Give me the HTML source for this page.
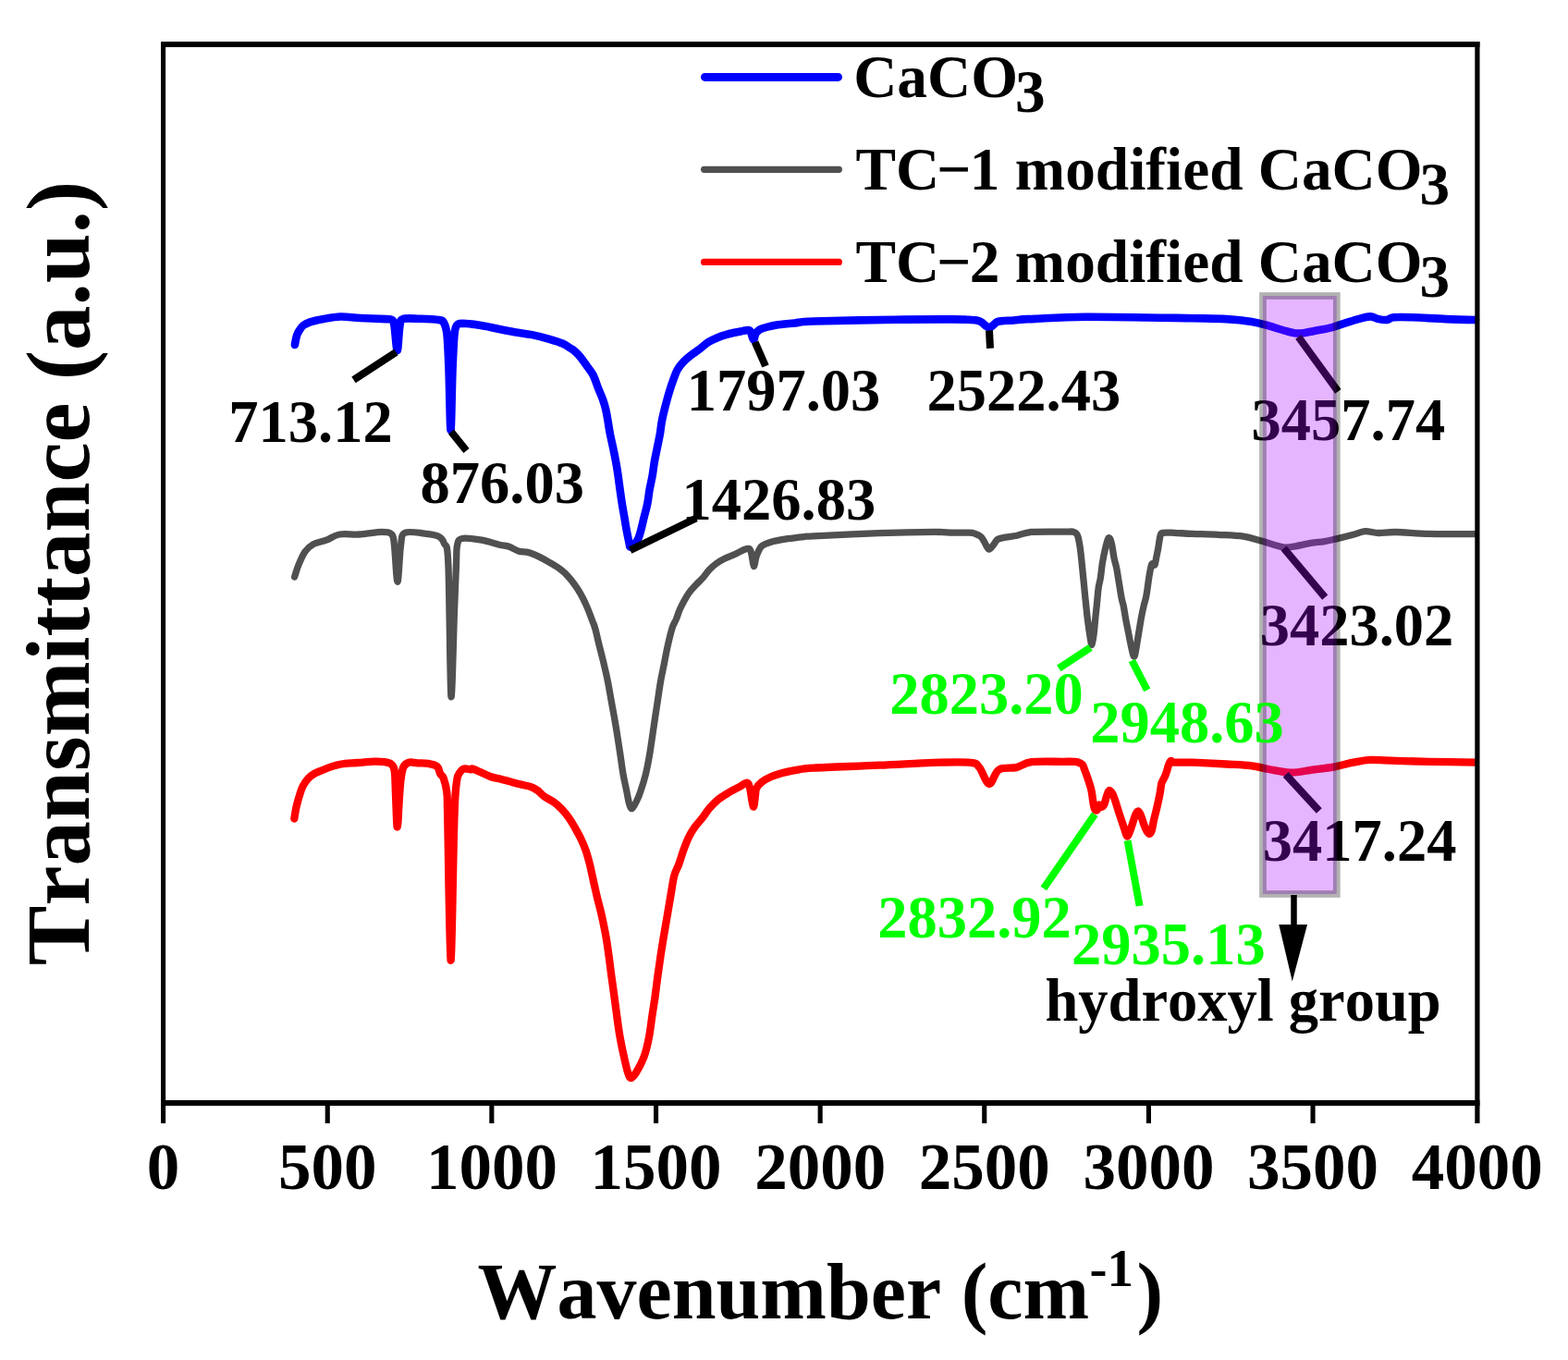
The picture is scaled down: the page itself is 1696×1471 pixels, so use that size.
<!DOCTYPE html>
<html><head><meta charset="utf-8"><title>FTIR</title>
<style>html,body{margin:0;padding:0;background:#fff;} svg{display:block;} text{font-kerning:none;font-variant-ligatures:none;font-feature-settings:"kern" 0,"liga" 0;}</style>
</head><body>
<svg width="1696" height="1471" viewBox="0 0 1696 1471">
<rect x="0" y="0" width="1696" height="1471" fill="#fff"/>
<g font-family="'Liberation Serif','Times New Roman',serif" font-weight="bold">
<path d="M318.9,373.0 C319.2,371.3 320.2,365.6 321.0,363.0 C321.8,360.4 322.4,359.5 323.6,357.7 C324.8,355.9 326.0,353.6 328.0,352.0 C330.0,350.4 331.7,349.5 335.4,348.3 C339.1,347.1 344.5,346.0 350.0,345.0 C355.5,344.0 361.7,342.7 368.4,342.5 C375.1,342.3 381.8,343.6 390.0,344.0 C398.2,344.4 412.2,344.8 417.9,345.1 C423.6,345.4 422.6,344.9 424.0,346.0 C425.4,347.1 425.6,346.5 426.5,352.0 C427.4,357.5 428.7,379.0 429.7,379.0 C430.7,379.0 431.4,357.7 432.5,352.0 C433.6,346.3 432.5,346.2 436.0,345.0 C439.5,343.8 446.9,344.6 453.3,344.8 C459.7,345.0 470.1,345.3 474.5,346.0 C478.9,346.7 478.5,346.3 480.0,349.0 C481.5,351.7 482.6,353.5 483.5,362.0 C484.4,370.5 484.8,382.8 485.5,400.0 C486.2,417.2 486.8,465.0 487.5,465.0 C488.2,465.0 488.8,417.2 489.5,400.0 C490.2,382.8 490.8,370.0 491.5,362.0 C492.2,354.0 492.6,354.0 494.0,352.0 C495.4,350.0 495.9,349.9 500.0,349.8 C504.1,349.8 512.6,350.8 518.9,351.7 C525.2,352.6 531.4,354.2 537.7,355.5 C544.0,356.8 550.3,358.1 556.6,359.2 C562.9,360.3 569.2,360.8 575.5,362.1 C581.8,363.4 588.8,365.2 594.3,366.8 C599.8,368.4 604.6,369.8 608.5,371.5 C612.4,373.2 615.7,375.8 617.9,377.2 C620.1,378.6 620.2,378.6 621.8,380.0 C623.4,381.4 625.2,383.0 627.4,385.7 C629.6,388.4 632.5,392.7 634.9,396.0 C637.2,399.3 639.5,401.5 641.5,405.5 C643.5,409.5 645.4,415.6 647.1,420.0 C648.9,424.4 650.7,428.3 652.0,432.0 C653.3,435.7 654.1,438.2 655.0,442.0 C655.9,445.8 656.7,450.3 657.5,455.0 C658.3,459.7 659.0,465.1 660.0,470.0 C661.0,474.9 662.2,479.8 663.2,484.7 C664.2,489.6 665.3,494.7 666.2,499.7 C667.1,504.7 667.9,509.7 668.6,514.7 C669.3,519.7 669.9,524.6 670.6,529.6 C671.3,534.6 672.0,539.6 672.8,544.6 C673.6,549.6 674.5,554.6 675.4,559.6 C676.2,564.6 677.0,569.9 677.9,574.5 C678.8,579.1 679.8,584.2 680.5,587.0 C681.2,589.8 680.7,592.3 682.4,591.5 C684.1,590.7 688.2,587.3 690.6,582.0 C693.0,576.7 695.0,565.8 696.6,559.6 C698.2,553.4 699.3,549.6 700.3,544.6 C701.3,539.6 701.7,534.6 702.6,529.6 C703.5,524.6 704.7,519.7 705.6,514.7 C706.5,509.7 706.9,504.7 707.8,499.7 C708.7,494.7 709.8,489.7 710.8,484.7 C711.8,479.7 712.9,474.8 713.8,469.8 C714.7,464.8 715.0,459.8 716.0,454.8 C717.0,449.8 718.2,444.9 719.5,439.9 C720.8,434.9 722.1,429.8 723.6,424.9 C725.1,420.0 726.7,415.1 728.3,410.8 C729.9,406.6 731.1,402.7 733.0,399.4 C734.9,396.1 737.2,393.4 739.6,390.9 C742.0,388.4 744.4,386.5 747.2,384.3 C750.0,382.1 753.5,380.1 756.6,377.7 C759.7,375.3 762.9,372.2 766.0,370.2 C769.1,368.2 772.4,366.8 775.5,365.5 C778.6,364.2 781.8,363.1 784.9,362.2 C788.0,361.2 791.1,360.5 794.3,359.8 C797.4,359.1 801.3,358.4 803.8,357.9 C806.3,357.4 808.0,356.8 809.4,357.0 C810.8,357.2 811.1,357.2 812.0,359.0 C812.9,360.8 814.2,367.1 815.0,367.5 C815.8,367.9 816.4,362.9 817.0,361.5 C817.6,360.1 818.0,359.8 818.9,358.9 C819.8,358.0 820.4,356.9 822.6,356.0 C824.8,355.1 829.0,354.0 832.1,353.2 C835.2,352.4 836.9,351.9 841.5,351.3 C846.1,350.7 853.6,350.0 860.0,349.4 C866.4,348.8 861.9,348.1 880.0,347.5 C898.1,346.9 943.4,346.1 968.4,345.7 C993.4,345.3 1017.1,345.4 1030.0,345.4 C1042.9,345.4 1041.5,345.5 1045.9,345.7 C1050.3,345.9 1053.8,346.0 1056.5,346.5 C1059.2,347.0 1060.2,347.6 1061.8,348.6 C1063.4,349.6 1064.7,351.3 1066.1,352.3 C1067.5,353.3 1069.0,354.7 1070.3,354.6 C1071.6,354.5 1072.7,352.9 1074.1,351.8 C1075.5,350.7 1076.9,348.8 1078.8,348.0 C1080.7,347.2 1082.8,347.2 1085.7,347.0 C1088.6,346.8 1092.8,346.8 1096.3,346.5 C1099.8,346.2 1103.0,345.7 1107.0,345.4 C1111.0,345.1 1108.7,345.3 1120.0,344.9 C1131.3,344.4 1146.5,342.8 1174.8,342.7 C1203.1,342.6 1264.7,343.8 1290.0,344.2 C1315.3,344.6 1315.9,344.5 1326.6,345.1 C1337.3,345.7 1346.4,346.7 1354.0,347.9 C1361.6,349.1 1366.2,350.7 1372.3,352.4 C1378.4,354.1 1385.0,356.5 1390.5,357.9 C1396.0,359.3 1400.0,360.6 1405.2,360.6 C1410.4,360.6 1415.8,358.9 1421.6,357.9 C1427.4,356.8 1434.4,355.7 1439.9,354.3 C1445.4,352.9 1449.6,351.2 1454.5,349.7 C1459.4,348.2 1464.6,346.3 1469.2,345.1 C1473.8,343.9 1478.3,342.4 1482.0,342.4 C1485.7,342.4 1488.1,344.5 1491.1,345.1 C1494.1,345.7 1497.5,346.3 1500.2,346.0 C1502.9,345.7 1502.9,343.8 1507.5,343.3 C1512.1,342.9 1518.2,343.0 1527.7,343.3 C1537.2,343.6 1552.8,344.7 1564.2,345.1 C1575.6,345.6 1590.7,345.9 1596.0,346.0" fill="none" stroke="#0000ff" stroke-width="8.6" stroke-linejoin="round" stroke-linecap="round"/>
<path d="M318.6,624.0 C319.3,621.8 321.1,615.4 323.0,610.8 C324.9,606.2 327.4,600.3 330.0,596.6 C332.6,592.9 335.1,590.7 338.9,588.6 C342.7,586.5 348.3,586.0 353.0,584.2 C357.7,582.4 361.3,579.0 367.2,578.0 C373.1,577.0 380.7,578.4 388.4,578.0 C396.1,577.6 407.3,575.4 413.2,575.4 C419.1,575.4 421.6,575.6 423.8,578.0 C426.0,580.4 425.5,581.5 426.5,590.0 C427.5,598.5 428.8,629.3 430.0,629.3 C431.2,629.3 432.2,598.8 433.5,590.0 C434.8,581.2 433.7,578.4 438.0,576.3 C442.3,574.1 453.3,576.5 459.2,577.1 C465.1,577.7 469.9,578.0 473.4,579.8 C476.9,581.6 478.5,582.6 480.4,587.8 C482.3,593.0 483.6,583.2 484.9,610.8 C486.1,638.4 486.8,745.0 487.9,753.2 C489.0,761.4 490.6,683.9 491.5,660.0 C492.4,636.1 493.0,621.8 493.5,610.0 C494.0,598.2 493.5,594.1 494.6,589.5 C495.7,584.9 495.5,583.4 499.9,582.5 C504.3,581.6 514.4,583.1 521.1,584.2 C527.8,585.3 535.1,588.0 540.0,589.2 C544.9,590.4 547.1,590.1 550.6,591.3 C554.1,592.5 557.7,595.2 561.2,596.2 C564.7,597.2 568.2,596.7 571.8,597.6 C575.3,598.5 579.0,600.2 582.5,601.9 C586.0,603.6 589.6,605.6 593.1,607.6 C596.6,609.6 600.8,611.9 603.7,613.9 C606.7,615.9 608.4,617.4 610.8,619.6 C613.1,621.9 615.4,624.5 617.8,627.4 C620.1,630.3 622.8,634.0 624.9,637.3 C627.0,640.6 628.8,643.8 630.6,647.2 C632.4,650.6 633.7,653.5 635.5,657.8 C637.3,662.0 639.8,669.0 641.2,672.7 C642.6,676.4 642.6,675.7 643.8,680.0 C645.0,684.3 646.7,692.2 648.3,698.6 C649.9,705.0 651.7,711.7 653.2,718.3 C654.8,724.9 656.3,731.4 657.6,738.0 C658.9,744.6 659.9,751.1 661.1,757.7 C662.3,764.3 663.6,770.8 664.7,777.4 C665.9,784.0 667.0,790.6 668.0,797.2 C669.0,803.8 670.0,810.3 671.0,816.9 C672.0,823.5 672.8,830.0 673.9,836.6 C675.0,843.2 676.8,850.7 677.9,856.3 C679.0,861.9 679.8,867.1 680.8,870.1 C681.8,873.1 682.5,875.1 683.8,874.5 C685.1,873.9 687.2,869.2 688.7,866.2 C690.2,863.2 691.1,861.2 692.7,856.3 C694.4,851.4 697.0,843.2 698.6,836.6 C700.2,830.0 701.4,823.5 702.5,816.9 C703.6,810.3 704.5,803.8 705.5,797.2 C706.5,790.6 707.4,784.0 708.4,777.4 C709.4,770.8 710.4,764.3 711.4,757.7 C712.4,751.1 713.2,744.6 714.4,738.0 C715.5,731.4 717.0,724.9 718.3,718.3 C719.6,711.7 720.7,705.2 722.2,698.6 C723.7,692.0 725.7,683.7 727.2,678.9 C728.7,674.1 730.0,673.2 731.3,670.0 C732.6,666.8 733.7,662.9 735.1,659.6 C736.5,656.3 738.1,653.3 739.8,650.2 C741.5,647.1 743.3,643.8 745.5,640.8 C747.7,637.8 750.5,635.0 753.0,632.3 C755.5,629.6 758.2,627.4 760.6,624.7 C763.0,622.0 764.9,618.7 767.2,616.2 C769.6,613.7 771.9,611.6 774.7,609.6 C777.5,607.6 780.7,605.7 784.2,604.0 C787.7,602.3 792.0,600.8 795.5,599.2 C799.0,597.6 802.4,595.4 804.9,594.5 C807.4,593.6 809.2,592.7 810.6,593.6 C812.0,594.5 812.2,596.9 813.0,600.0 C813.8,603.1 814.5,611.8 815.3,612.5 C816.0,613.2 816.9,606.2 817.5,604.0 C818.1,601.8 818.1,601.4 819.1,599.2 C820.1,597.0 821.4,592.9 823.8,590.8 C826.1,588.7 828.5,587.9 833.2,586.5 C837.9,585.1 845.8,583.7 852.1,582.7 C858.4,581.7 866.2,580.9 870.9,580.4 C875.5,579.9 866.7,580.5 880.0,579.9 C893.3,579.3 929.2,577.4 950.8,576.6 C972.4,575.9 996.5,575.5 1009.7,575.4 C1022.9,575.3 1023.5,576.0 1030.0,576.1 C1036.5,576.2 1044.3,575.9 1048.4,576.1 C1052.5,576.3 1052.5,576.5 1054.5,577.2 C1056.5,577.9 1059.0,578.9 1060.7,580.3 C1062.4,581.7 1063.0,583.4 1064.5,585.7 C1066.0,588.0 1067.8,593.5 1069.5,594.1 C1071.2,594.7 1072.8,591.3 1074.4,589.5 C1076.0,587.7 1076.8,584.8 1079.0,583.4 C1081.2,582.0 1084.2,581.8 1087.5,581.1 C1090.8,580.5 1095.8,580.1 1099.0,579.5 C1102.2,578.9 1104.0,577.8 1106.6,577.2 C1109.1,576.6 1112.4,576.0 1114.3,575.7 C1116.2,575.4 1112.1,575.4 1118.1,575.3 C1124.0,575.2 1142.9,575.2 1150.0,575.2 C1157.1,575.2 1158.4,574.7 1160.9,575.2 C1163.4,575.8 1164.1,576.5 1165.2,578.5 C1166.3,580.5 1166.8,583.9 1167.4,587.2 C1168.0,590.5 1168.5,593.6 1169.0,598.1 C1169.5,602.6 1170.2,609.0 1170.7,614.4 C1171.2,619.8 1171.8,625.3 1172.3,630.7 C1172.8,636.1 1173.4,641.5 1173.9,647.0 C1174.5,652.5 1175.0,657.9 1175.6,663.4 C1176.2,668.9 1177.0,674.6 1177.7,679.7 C1178.4,684.8 1179.4,690.9 1179.9,693.8 C1180.5,696.7 1180.5,698.5 1181.0,697.1 C1181.5,695.7 1182.6,689.8 1183.2,685.1 C1183.8,680.4 1184.2,674.2 1184.8,668.8 C1185.3,663.4 1186.0,657.9 1186.5,652.5 C1187.0,647.1 1187.5,640.7 1188.1,636.2 C1188.7,631.7 1189.6,629.8 1190.3,625.3 C1191.0,620.8 1191.5,614.5 1192.4,609.0 C1193.3,603.5 1194.6,597.1 1195.7,592.6 C1196.8,588.1 1197.9,582.7 1199.0,581.8 C1200.1,580.9 1201.2,583.6 1202.2,587.2 C1203.2,590.8 1204.1,599.0 1205.0,603.5 C1205.9,608.0 1206.8,609.9 1207.7,614.4 C1208.6,618.9 1209.5,625.3 1210.4,630.7 C1211.3,636.1 1212.3,642.8 1213.1,647.0 C1213.9,651.2 1214.6,652.2 1215.3,655.8 C1216.0,659.4 1216.6,663.9 1217.5,668.8 C1218.4,673.7 1219.6,679.6 1220.7,685.1 C1221.8,690.6 1223.0,697.3 1224.0,701.5 C1225.0,705.7 1225.9,710.2 1226.7,710.2 C1227.5,710.2 1228.1,705.7 1228.9,701.5 C1229.7,697.3 1230.7,690.6 1231.6,685.1 C1232.5,679.6 1233.4,673.7 1234.3,668.8 C1235.2,663.9 1236.1,659.8 1237.0,655.8 C1237.9,651.8 1239.0,649.1 1239.8,644.9 C1240.6,640.7 1241.3,634.9 1241.9,630.7 C1242.5,626.5 1242.9,623.2 1243.6,619.8 C1244.2,616.4 1244.9,611.5 1245.8,610.1 C1246.7,608.7 1248.2,612.2 1249.0,611.1 C1249.8,610.0 1250.0,606.6 1250.6,603.5 C1251.2,600.4 1252.1,596.6 1252.8,592.6 C1253.5,588.6 1254.2,582.3 1255.0,579.6 C1255.8,576.9 1255.2,576.8 1257.7,576.3 C1260.2,575.8 1264.6,576.1 1270.0,576.3 C1275.4,576.5 1282.1,577.1 1290.0,577.4 C1297.9,577.7 1308.3,577.8 1317.4,578.3 C1326.5,578.8 1337.2,579.0 1344.8,580.1 C1352.4,581.2 1357.6,583.2 1363.1,584.7 C1368.6,586.2 1373.5,588.0 1377.8,589.2 C1382.1,590.4 1385.0,591.7 1388.7,592.0 C1392.4,592.3 1394.8,591.9 1399.7,591.1 C1404.6,590.3 1412.5,588.3 1418.0,587.4 C1423.5,586.5 1428.0,586.4 1432.6,585.6 C1437.2,584.9 1440.2,584.1 1445.4,582.9 C1450.6,581.7 1458.5,579.7 1463.7,578.3 C1468.9,576.9 1471.9,574.9 1476.5,574.6 C1481.1,574.3 1485.6,576.4 1491.1,576.5 C1496.6,576.6 1500.2,575.4 1509.4,575.5 C1518.6,575.6 1531.6,577.0 1546.0,577.4 C1560.4,577.8 1587.7,577.7 1596.0,577.7" fill="none" stroke="#505050" stroke-width="7.3" stroke-linejoin="round" stroke-linecap="round"/>
<path d="M318.3,885.5 C318.7,883.3 319.6,876.8 320.6,872.5 C321.6,868.2 323.0,863.2 324.2,859.5 C325.4,855.8 326.1,853.1 327.7,850.1 C329.3,847.1 331.6,844.0 333.6,841.8 C335.6,839.6 336.9,838.6 339.5,837.1 C342.1,835.6 345.6,834.4 348.9,833.0 C352.2,831.6 356.1,830.0 359.5,828.9 C362.9,827.8 365.4,827.1 369.0,826.5 C372.6,825.9 376.9,825.6 380.8,825.3 C384.7,825.0 388.6,825.0 392.5,824.7 C396.4,824.4 400.4,823.7 404.3,823.6 C408.2,823.5 413.0,823.7 416.1,824.2 C419.2,824.7 421.4,824.9 423.2,826.5 C425.0,828.1 425.9,828.5 426.7,833.6 C427.5,838.7 427.5,848.1 427.9,857.2 C428.3,866.3 428.8,881.8 429.1,888.0 C429.4,894.2 429.5,894.5 429.7,894.5 C429.9,894.5 430.2,892.1 430.5,888.0 C430.8,883.9 431.0,877.1 431.5,870.0 C432.0,862.9 432.5,852.1 433.3,845.4 C434.1,838.7 434.7,833.5 436.2,830.0 C437.7,826.5 439.6,825.5 442.1,824.7 C444.7,823.9 448.0,825.1 451.5,825.3 C455.0,825.5 459.8,825.3 463.3,825.9 C466.8,826.5 470.5,827.0 472.7,828.9 C474.9,830.8 475.1,835.0 476.3,837.1 C477.5,839.2 478.6,838.4 479.8,841.8 C481.0,845.1 482.6,850.0 483.3,857.2 C484.0,864.4 483.5,854.7 484.2,885.0 C484.9,915.3 486.4,1036.3 487.5,1038.8 C488.6,1041.3 490.2,929.8 491.0,900.0 C491.8,870.2 491.9,869.7 492.5,860.0 C493.1,850.3 493.8,846.0 494.5,842.0 C495.2,838.0 495.8,837.8 497.0,836.0 C498.2,834.2 499.8,832.1 502.0,831.5 C504.2,830.9 508.3,832.4 510.0,832.4 C511.7,832.4 509.0,830.6 512.3,831.8 C515.6,833.0 525.4,838.0 530.0,839.8 C534.6,841.5 536.5,841.4 540.0,842.3 C543.5,843.2 547.5,844.3 551.2,845.3 C554.9,846.3 558.7,847.4 562.4,848.3 C566.1,849.2 570.5,849.8 573.6,850.9 C576.7,852.0 578.6,853.0 581.1,854.7 C583.6,856.5 585.5,859.2 588.6,861.4 C591.7,863.6 596.7,865.9 599.8,868.1 C602.9,870.4 604.8,872.3 607.3,874.9 C609.8,877.5 612.3,880.3 614.8,883.8 C617.3,887.3 620.0,891.9 622.2,895.8 C624.4,899.7 626.3,903.0 628.2,907.0 C630.1,911.0 631.9,915.1 633.5,919.7 C635.1,924.3 636.7,930.2 637.9,934.7 C639.1,939.2 639.3,941.3 640.6,947.0 C641.9,952.7 643.8,961.5 645.5,968.8 C647.2,976.1 649.3,983.4 650.9,990.6 C652.5,997.9 654.0,1005.0 655.3,1012.3 C656.6,1019.5 657.6,1026.8 658.6,1034.1 C659.6,1041.4 660.4,1048.7 661.4,1055.9 C662.4,1063.2 663.4,1070.3 664.4,1077.6 C665.4,1084.8 666.3,1092.1 667.3,1099.4 C668.3,1106.7 669.2,1114.0 670.5,1121.2 C671.8,1128.5 673.4,1136.4 674.9,1142.9 C676.4,1149.4 677.9,1156.5 679.2,1160.3 C680.5,1164.1 681.0,1166.0 682.5,1166.0 C684.0,1166.0 685.5,1164.1 687.9,1160.3 C690.2,1156.5 694.2,1149.4 696.6,1142.9 C699.0,1136.4 700.7,1128.5 702.1,1121.2 C703.5,1114.0 704.2,1106.7 705.3,1099.4 C706.4,1092.1 707.6,1084.8 708.6,1077.6 C709.6,1070.3 710.4,1063.2 711.4,1055.9 C712.4,1048.7 713.4,1041.4 714.5,1034.1 C715.6,1026.8 716.8,1019.5 718.0,1012.3 C719.2,1005.0 720.5,997.9 721.7,990.6 C722.9,983.4 724.1,976.1 725.4,968.8 C726.7,961.5 727.8,952.6 729.3,947.0 C730.8,941.4 732.6,939.4 734.2,935.0 C735.8,930.6 737.2,925.5 738.9,920.7 C740.6,916.0 742.5,910.8 744.5,906.5 C746.5,902.2 748.6,898.8 751.1,895.2 C753.6,891.6 756.9,888.3 759.6,884.8 C762.3,881.3 764.4,877.7 767.2,874.4 C770.0,871.1 773.2,867.8 776.6,865.0 C780.0,862.2 784.0,859.9 787.9,857.5 C791.8,855.1 796.9,852.6 800.2,850.8 C803.5,849.0 805.9,846.4 807.7,846.6 C809.5,846.8 809.8,847.7 811.0,852.0 C812.2,856.3 813.8,871.2 814.8,872.5 C815.8,873.8 816.5,863.3 817.0,860.0 C817.5,856.7 817.0,855.0 818.1,852.7 C819.2,850.4 821.3,848.1 823.8,846.1 C826.3,844.1 829.3,842.2 833.2,840.5 C837.1,838.8 842.7,837.1 847.4,835.8 C852.1,834.5 856.1,833.8 861.5,832.9 C866.9,832.0 865.1,831.5 880.0,830.6 C894.9,829.7 929.2,828.7 950.8,827.7 C972.4,826.8 993.2,825.4 1009.7,824.9 C1026.2,824.4 1041.5,824.0 1049.8,824.9 C1058.0,825.8 1055.8,826.3 1059.2,830.1 C1062.6,833.9 1066.4,847.4 1069.9,847.8 C1073.5,848.2 1075.6,835.5 1080.5,832.5 C1085.4,829.5 1093.4,831.5 1099.3,830.1 C1105.2,828.7 1107.3,825.2 1115.8,824.2 C1124.2,823.2 1142.4,823.9 1150.0,823.8 C1157.6,823.7 1159.0,823.7 1161.5,823.8 C1164.0,823.9 1163.8,823.7 1165.3,824.2 C1166.8,824.7 1169.4,825.6 1170.7,826.9 C1172.0,828.2 1172.1,829.9 1173.0,832.2 C1173.9,834.5 1175.1,837.8 1176.1,840.7 C1177.1,843.6 1178.3,847.2 1179.1,849.8 C1179.9,852.3 1180.2,853.7 1180.7,856.0 C1181.2,858.3 1181.4,861.1 1181.8,863.6 C1182.2,866.1 1182.5,869.2 1183.0,871.3 C1183.5,873.3 1183.9,875.1 1184.5,875.9 C1185.1,876.7 1186.1,876.8 1186.8,875.9 C1187.5,875.0 1187.9,871.0 1188.7,870.5 C1189.5,870.0 1190.5,872.9 1191.4,872.8 C1192.4,872.7 1193.5,871.6 1194.4,869.8 C1195.3,868.0 1195.9,864.4 1196.7,862.1 C1197.5,859.8 1198.3,857.1 1199.0,856.0 C1199.7,854.9 1199.8,854.7 1200.6,855.2 C1201.4,855.7 1202.6,857.0 1203.6,859.0 C1204.6,861.0 1205.7,864.4 1206.7,867.5 C1207.7,870.6 1208.8,874.2 1209.8,877.4 C1210.8,880.6 1211.8,883.5 1212.8,886.6 C1213.8,889.7 1214.9,892.8 1215.9,895.8 C1216.9,898.8 1218.0,903.6 1219.0,904.3 C1220.0,904.9 1221.0,902.0 1222.0,899.7 C1223.0,897.4 1224.1,893.6 1225.1,890.5 C1226.1,887.4 1227.2,883.5 1228.2,881.3 C1229.2,879.1 1230.2,877.1 1231.2,877.4 C1232.2,877.6 1233.3,880.4 1234.3,882.8 C1235.3,885.2 1236.4,889.3 1237.4,892.0 C1238.4,894.7 1239.5,897.2 1240.4,898.9 C1241.4,900.6 1242.2,902.1 1243.1,902.0 C1244.0,901.9 1245.0,900.7 1245.8,898.1 C1246.6,895.5 1247.3,890.1 1248.1,886.6 C1248.9,883.1 1249.6,880.6 1250.4,877.4 C1251.2,874.2 1251.9,871.1 1252.7,867.5 C1253.5,863.9 1254.4,859.5 1255.0,856.0 C1255.6,852.5 1255.7,849.3 1256.5,846.8 C1257.3,844.2 1258.7,842.8 1259.6,840.7 C1260.5,838.7 1261.1,836.8 1261.9,834.5 C1262.7,832.2 1263.4,828.8 1264.2,826.9 C1265.0,825.0 1265.7,823.4 1266.5,823.0 C1267.3,822.6 1266.5,824.3 1268.8,824.6 C1271.0,824.9 1276.5,824.6 1280.0,824.6 C1283.5,824.6 1282.2,824.4 1290.0,824.7 C1297.8,825.0 1315.9,825.9 1326.6,826.5 C1337.3,827.1 1346.4,827.4 1354.0,828.3 C1361.6,829.2 1365.3,830.8 1372.3,832.0 C1379.3,833.2 1388.4,835.5 1396.0,835.6 C1403.6,835.8 1410.1,834.0 1418.0,832.9 C1425.9,831.8 1436.0,830.7 1443.6,829.3 C1451.2,827.9 1457.3,825.9 1463.7,824.7 C1470.1,823.5 1474.4,822.2 1482.0,821.9 C1489.6,821.6 1498.7,822.6 1509.4,822.9 C1520.1,823.2 1531.6,823.5 1546.0,823.8 C1560.4,824.1 1587.7,824.6 1596.0,824.7" fill="none" stroke="#ff0000" stroke-width="8.3" stroke-linejoin="round" stroke-linecap="round"/>
<line x1="428.5" y1="380.8" x2="382.5" y2="410.8" stroke="#000" stroke-width="8"/>
<line x1="488.0" y1="467.0" x2="504.5" y2="487.5" stroke="#000" stroke-width="8"/>
<line x1="681.6" y1="595.1" x2="753" y2="560.5" stroke="#000" stroke-width="8"/>
<line x1="816.6" y1="370.0" x2="828.0" y2="396.0" stroke="#000" stroke-width="8"/>
<line x1="1070" y1="357.5" x2="1071" y2="376.7" stroke="#000" stroke-width="8"/>
<line x1="1404.4" y1="364.4" x2="1447.3" y2="423.4" stroke="#000" stroke-width="8"/>
<line x1="1388.6" y1="593" x2="1433.2" y2="646.1" stroke="#000" stroke-width="8"/>
<line x1="1390.7" y1="837.8" x2="1426.8" y2="877" stroke="#000" stroke-width="8"/>
<line x1="1179.5" y1="700.4" x2="1145.3" y2="722.8" stroke="#00ff00" stroke-width="8"/>
<line x1="1224.3" y1="714.5" x2="1240.8" y2="746.4" stroke="#00ff00" stroke-width="8"/>
<line x1="1184.2" y1="880.8" x2="1128.8" y2="961" stroke="#00ff00" stroke-width="8"/>
<line x1="1219.6" y1="909.1" x2="1232.6" y2="979.9" stroke="#00ff00" stroke-width="8"/>
<text x="247.3" y="478" fill="#000" font-size="64.5">713.12</text>
<text x="454.5" y="544" fill="#000" font-size="64.5">876.03</text>
<text x="737.6" y="562" fill="#000" font-size="64.5">1426.83</text>
<text x="742.7" y="444" fill="#000" font-size="64.5">1797.03</text>
<text x="1002.6" y="444" fill="#000" font-size="64.5">2522.43</text>
<text x="1353.6" y="476" fill="#000" font-size="64.5">3457.74</text>
<text x="1362.7" y="697.5" fill="#000" font-size="64.5">3423.02</text>
<text x="1365.8" y="931" fill="#000" font-size="64.5">3417.24</text>
<line x1="762.5" y1="83.4" x2="906.5" y2="83.4" stroke="#0000ff" stroke-width="9" stroke-linecap="round"/>
<text x="923.2" y="105.3" font-size="65.3">CaCO<tspan dx="-3" dy="16">3</tspan></text>
<line x1="761.6" y1="183.3" x2="907.4" y2="183.3" stroke="#505050" stroke-width="7.2" stroke-linecap="round"/>
<text x="925.4" y="205.2" font-size="65.3">TC<tspan dx="-3">−</tspan><tspan dx="-1.5">1 modified CaCO</tspan><tspan dx="-3" dy="16">3</tspan></text>
<line x1="761.6" y1="283.4" x2="907.4" y2="283.4" stroke="#ff0000" stroke-width="7.2" stroke-linecap="round"/>
<text x="925.4" y="305.2" font-size="65.3">TC<tspan dx="-3">−</tspan><tspan dx="-1.5">2 modified CaCO</tspan><tspan dx="-3" dy="16">3</tspan></text>
<text x="1130.4" y="1103.5" font-size="64.5">hydroxyl group</text>
<line x1="1399.5" y1="968" x2="1399.5" y2="1005" stroke="#000" stroke-width="6.5"/>
<polygon points="1383.3,1000 1414,1000 1397.8,1061.5" fill="#000"/>
<rect x="1366" y="320" width="79.8" height="647" fill="rgb(170,10,255)" fill-opacity="0.3" stroke="#000" stroke-opacity="0.3" stroke-width="7.7"/>
<text x="962.2" y="772" fill="#00ff00" font-size="64.5">2823.20</text>
<text x="1179.2" y="802.5" fill="#00ff00" font-size="64.5">2948.63</text>
<text x="949.2" y="1013.5" fill="#00ff00" font-size="64.5">2832.92</text>
<text x="1159.1" y="1043" fill="#00ff00" font-size="64.5">2935.13</text>
<rect x="174" y="45" width="5.1" height="1170" fill="#000"/>
<rect x="1595.3" y="45" width="5.2" height="1170" fill="#000"/>
<rect x="174" y="45" width="1426.5" height="6" fill="#000"/>
<rect x="174" y="1190" width="1426.5" height="6" fill="#000"/>
<rect x="351.7" y="1196" width="5.1" height="19" fill="#000"/>
<rect x="529.3" y="1196" width="5.1" height="19" fill="#000"/>
<rect x="707.0" y="1196" width="5.1" height="19" fill="#000"/>
<rect x="884.6" y="1196" width="5.1" height="19" fill="#000"/>
<rect x="1062.2" y="1196" width="5.1" height="19" fill="#000"/>
<rect x="1239.9" y="1196" width="5.1" height="19" fill="#000"/>
<rect x="1417.5" y="1196" width="5.1" height="19" fill="#000"/>
<text x="176.6" y="1286" font-size="71" text-anchor="middle">0</text>
<text x="354.2" y="1286" font-size="71" text-anchor="middle">500</text>
<text x="531.9" y="1286" font-size="71" text-anchor="middle">1000</text>
<text x="709.5" y="1286" font-size="71" text-anchor="middle">1500</text>
<text x="887.2" y="1286" font-size="71" text-anchor="middle">2000</text>
<text x="1064.8" y="1286" font-size="71" text-anchor="middle">2500</text>
<text x="1242.4" y="1286" font-size="71" text-anchor="middle">3000</text>
<text x="1420.1" y="1286" font-size="71" text-anchor="middle">3500</text>
<text x="1597.7" y="1286" font-size="71" text-anchor="middle">4000</text>
<text x="516.5" y="1425.5" font-size="86">Wavenumber (cm</text>
<text x="1178.6" y="1390.8" font-size="57">-1</text>
<text x="1229.6" y="1425.5" font-size="86">)</text>
<text transform="translate(96,1044.3) rotate(-90)" x="0" y="0" font-size="97">Transmittance (a.u.)</text>
</g></svg>
</body></html>
